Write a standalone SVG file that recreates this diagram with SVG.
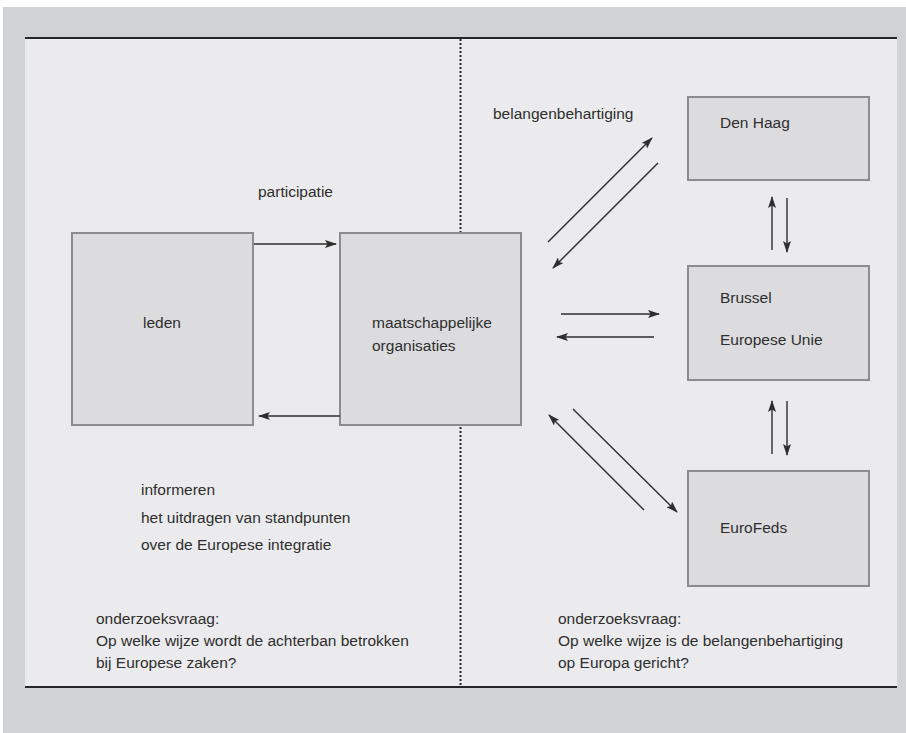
<svg xmlns="http://www.w3.org/2000/svg" width="906" height="733" viewBox="0 0 906 733">
<style>
  .t { font-family: "Liberation Sans", Arial, sans-serif; font-size: 15.5px; fill: #2e2e2e; }
  .box { fill: #dcdcde; stroke: #8c8c8e; stroke-width: 2; }
  .conn { stroke: #2e2e2e; stroke-width: 1.4; fill: none; marker-end: url(#ah); }
  .rule { stroke: #262626; stroke-width: 2; }
</style>
<defs>
  <marker id="ah" viewBox="0 0 12 8" refX="11" refY="4" markerWidth="12" markerHeight="8" markerUnits="userSpaceOnUse" orient="auto">
    <path d="M0,0 L12,4 L0,8 L2.5,4 Z" fill="#2e2e2e"/>
  </marker>
</defs>
<rect x="0" y="0" width="906" height="733" fill="#ffffff"/>
<rect x="3" y="7" width="903" height="726" fill="#d1d2d4"/>
<rect x="25" y="38" width="872" height="649" fill="#ebebed"/>
<line class="rule" x1="25" y1="38" x2="897" y2="38"/>
<line class="rule" x1="25" y1="687" x2="897" y2="687"/>
<line x1="460.5" y1="39" x2="460.5" y2="686" stroke="#262626" stroke-width="2" stroke-dasharray="2 2"/>

<g id="leden">
  <rect class="box" x="72" y="233" width="181" height="192"/>
  <text class="t" x="143" y="328">leden</text>
</g>
<g id="maatschappelijke-organisaties">
  <rect class="box" x="340" y="233" width="181" height="192"/>
  <text class="t" x="372" y="328">maatschappelijke</text>
  <text class="t" x="372" y="351">organisaties</text>
</g>
<g id="den-haag">
  <rect class="box" x="688" y="97" width="181" height="83"/>
  <text class="t" x="720" y="128">Den Haag</text>
</g>
<g id="brussel">
  <rect class="box" x="688" y="266" width="181" height="114"/>
  <text class="t" x="720" y="303">Brussel</text>
  <text class="t" x="720" y="345">Europese Unie</text>
</g>
<g id="eurofeds">
  <rect class="box" x="688" y="471" width="181" height="115"/>
  <text class="t" x="720" y="533">EuroFeds</text>
</g>

<g id="connectors">
  <line class="conn" x1="254" y1="244" x2="336" y2="244"/>
  <line class="conn" x1="340" y1="416" x2="259" y2="416"/>
  <line class="conn" x1="548" y1="242" x2="652" y2="138"/>
  <line class="conn" x1="658" y1="163" x2="553" y2="268"/>
  <line class="conn" x1="561" y1="314" x2="659" y2="314"/>
  <line class="conn" x1="654" y1="337" x2="557" y2="337"/>
  <line class="conn" x1="644" y1="510" x2="549" y2="415"/>
  <line class="conn" x1="573" y1="409" x2="677" y2="512"/>
  <line class="conn" x1="772" y1="250" x2="772" y2="197"/>
  <line class="conn" x1="787" y1="198" x2="787" y2="252"/>
  <line class="conn" x1="772" y1="454" x2="772" y2="401"/>
  <line class="conn" x1="787" y1="401" x2="787" y2="455"/>
</g>

<g id="labels">
  <text class="t" x="258" y="197">participatie</text>
  <text class="t" x="493" y="119">belangenbehartiging</text>
  <text class="t" x="141" y="495">informeren</text>
  <text class="t" x="141" y="523">het uitdragen van standpunten</text>
  <text class="t" x="141" y="550">over de Europese integratie</text>
  <text class="t" x="96" y="624">onderzoeksvraag:</text>
  <text class="t" x="96" y="646">Op welke wijze wordt de achterban betrokken</text>
  <text class="t" x="96" y="668">bij Europese zaken?</text>
  <text class="t" x="558" y="624">onderzoeksvraag:</text>
  <text class="t" x="558" y="646">Op welke wijze is de belangenbehartiging</text>
  <text class="t" x="558" y="668">op Europa gericht?</text>
</g>
</svg>
